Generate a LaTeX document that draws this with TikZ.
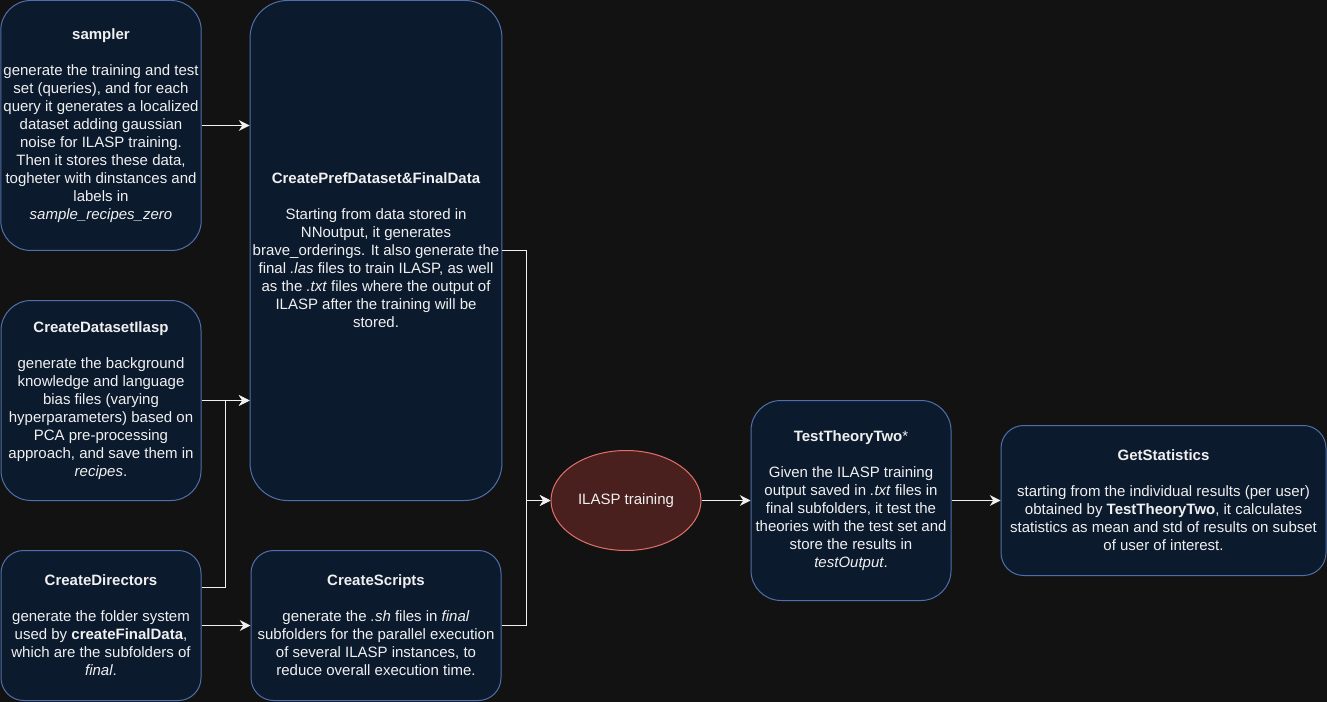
\documentclass[tikz,border=0pt]{standalone}
\usepackage{fontspec}
\setmainfont{Liberation Sans}
\usetikzlibrary{arrows.meta,calc,shapes.geometric}

\definecolor{bgcol}{RGB}{18,18,18}
\definecolor{boxfill}{RGB}{12,26,46}
\definecolor{boxline}{RGB}{78,112,170}
\definecolor{ovalfill}{RGB}{74,32,30}
\definecolor{ovalline}{RGB}{226,112,104}
\definecolor{txt}{RGB}{240,240,240}

\begin{document}
\begin{tikzpicture}[x=0.75pt,y=-0.75pt,
  box/.style={draw=boxline,fill=boxfill,line width=0.75pt,rounded corners=#1,
    text=txt,align=center,inner sep=2pt,font=\fontsize{11.25}{13.5}\selectfont},
  box/.default=22.5pt,
  oval/.style={ellipse,draw=ovalline,fill=ovalfill,line width=0.75pt,
    text=txt,inner sep=0pt,font=\fontsize{11.25}{13.5}\selectfont},
  conn/.style={draw=txt,line width=1.1pt,-{Stealth[length=8pt,width=8pt]}}]

\fill[bgcol] (0,0) rectangle (1327,702);

%sampler
\node[box,minimum width=150pt,minimum height=187.5pt] (sampler) at (101,125.5)
  {\textbf{sampler}\\[13.5pt]
   generate the training and test\\
   set (queries), and for each\\
   query it generates a localized\\
   dataset adding gaussian\\
   noise for ILASP training.\\
   Then it stores these data,\\
   togheter with dinstances and\\
   labels in\\
   \textit{sample\_recipes\_zero}};

%pref
\node[box=28pt,minimum width=187.5pt,minimum height=375pt] (pref) at (376,250.5)
  {\textbf{CreatePrefDataset\&FinalData}\\[13.5pt]
   Starting from data stored in\\
   NNoutput, it generates\\
   brave\_orderings. It also generate the\\
   final \textit{.las} files to train ILASP, as well\\
   as the \textit{.txt} files where the output of\\
   ILASP after the training will be\\
   stored.};

%ilasp
\node[box,minimum width=150pt,minimum height=150pt] (ilasp) at (101,400.5)
  {\textbf{CreateDatasetIlasp}\\[13.5pt]
   generate the background\\
   knowledge and language\\
   bias files (varying\\
   hyperparameters) based on\\
   PCA pre-processing\\
   approach, and save them in\\
   \textit{recipes}.};

%dirs
\node[box=17pt,minimum width=150pt,minimum height=112.5pt] (dirs) at (101,625.5)
  {\textbf{CreateDirectors}\\[13.5pt]
   generate the folder system\\
   used by \textbf{createFinalData},\\
   which are the subfolders of\\
   \textit{final}.};

%scripts
\node[box=17pt,minimum width=187.5pt,minimum height=112.5pt] (scripts) at (376,625.5)
  {\textbf{CreateScripts}\\[13.5pt]
   generate the \textit{.sh} files in \textit{final}\\
   subfolders for the parallel execution\\
   of several ILASP instances, to\\
   reduce overall execution time.};

%train
\node[oval,minimum width=112.5pt,minimum height=75pt] (train) at (626,500.5) {ILASP training};

%test
\node[box,minimum width=150pt,minimum height=150pt] (test) at (851,500.5)
  {\textbf{TestTheoryTwo}*\\[13.5pt]
   Given the ILASP training\\
   output saved in \textit{.txt} files in\\
   final subfolders, it test the\\
   theories with the test set and\\
   store the results in\\
   \textit{testOutput}.};

%stats
\node[box=17pt,minimum width=243.75pt,minimum height=112.5pt] (stats) at (1163.5,500.5)
  {\textbf{GetStatistics}\\[13.5pt]
   starting from the individual results (per user)\\
   obtained by \textbf{TestTheoryTwo}, it calculates\\
   statistics as mean and std of results on subset\\
   of user of interest.};

%links
\draw[conn] (sampler.east) -- (sampler.east -| pref.west);
\draw[conn] (ilasp.east) -- (ilasp.east -| pref.west);
\coordinate (dtop) at ($(dirs.north east)!0.25!(dirs.south east)$);
\coordinate (jd) at ($(ilasp.east)!0.5!(ilasp.east -| pref.west)$);
\draw[conn] (dtop) -| (jd) -- (jd -| pref.west);
\draw[conn] (dirs.east) -- (scripts.west);
\coordinate (jt) at ($(train.west -| pref.east)!0.5!(train.west)$);
\draw[conn] (pref.east) -| (jt) -- (train.west);
\draw[conn] (scripts.east) -| (jt) -- (train.west);
\draw[conn] (train) -- (test);
\draw[conn] (test) -- (stats);

\end{tikzpicture}
\end{document}
